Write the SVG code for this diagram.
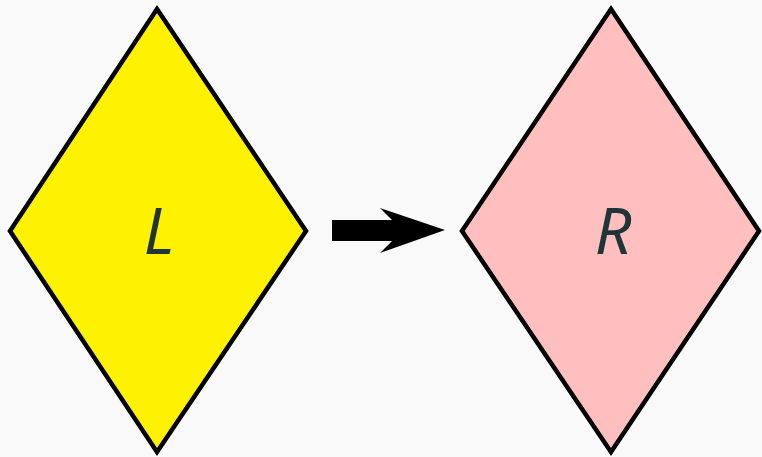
<svg xmlns="http://www.w3.org/2000/svg" width="762" height="457" viewBox="0 0 762 457">
  <style>
    .shape { stroke: #000; stroke-width: 4.5; stroke-linejoin: miter; }
    .label { font-family: "Noto Sans", "Open Sans", sans-serif; font-style: italic; font-size: 64px; fill: #1f3538; text-anchor: middle; }
  </style>
  <rect width="762" height="457" fill="#f9f9f9"/>
  <g id="node-L">
    <polygon class="shape" points="157,9 306,231 157,452 10,231" fill="#fff200"/>
    <text class="label" x="159" y="254">L</text>
  </g>
  <g id="node-R">
    <polygon class="shape" points="611,9 759,231 611,452 462,231" fill="#ffbfbf"/>
    <text class="label" x="613" y="254">R</text>
  </g>
  <g id="connectors">
    <polygon points="332,220 392,220 380,208 445,230 380,253 392,241 332,241" fill="#000"/>
  </g>
</svg>
